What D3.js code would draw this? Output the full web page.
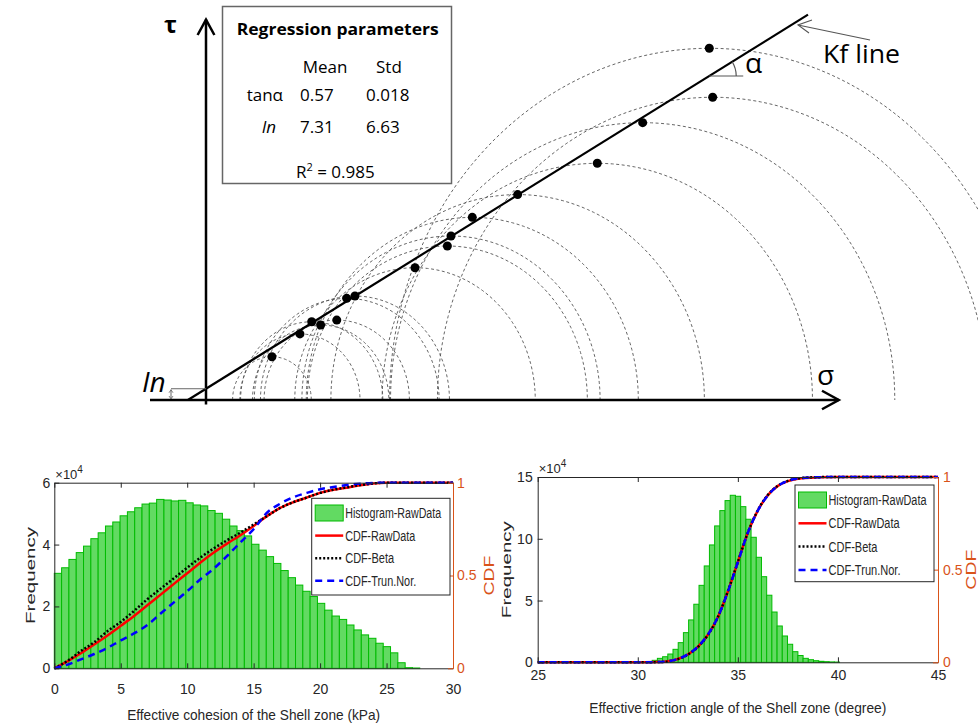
<!DOCTYPE html>
<html>
<head>
<meta charset="utf-8">
<script src="https://cdn.jsdelivr.net/npm/d3@7"></script>
<style>
body { margin: 0; background: #fff; }
svg { display: block; }
</style>
</head>
<body>
<div id="chart"></div>
<script>
// ---- top figure: Mohr circles, tops of circles (p, q) and the Kf line, drawing units
var sigma = [47.1, 67.1, 75.5, 81.9, 93.4, 100.5, 106.4, 149.3, 172.4, 175.0, 190.2, 222.6, 279.5, 311.9, 361.9, 359.5];
var tau = [28.1, 42.9, 50.8, 48.7, 51.9, 66.0, 67.5, 85.9, 100.0, 106.5, 118.6, 133.4, 153.7, 180.1, 196.6, 228.4];
var kfIntercept = 7.31;
var kfSlope = 0.565;
var tableHead = ["Mean", "Std"];
var tableRows = [["tanα", "0.57", "0.018"], ["In", "7.31", "6.63"]];
var rSquared = "0.985";

// ---- bottom left: effective cohesion (kPa), frequency in 1e4
var cohBinStart = 0, cohBinWidth = 0.55;
var cohFreq = [3.07, 3.25, 3.52, 3.74, 3.95, 4.19, 4.38, 4.60, 4.73, 4.93, 5.06, 5.19, 5.31, 5.34, 5.46, 5.44, 5.41,
	5.43, 5.35, 5.28, 5.25, 5.10, 5.01, 4.82, 4.60, 4.45, 4.28, 4.01, 3.82, 3.61, 3.39, 3.16, 2.93, 2.69, 2.49, 2.32,
	2.10, 1.88, 1.69, 1.58, 1.40, 1.24, 1.08, 0.97, 0.81, 0.70, 0.50, 0.18, 0.02, 0.01];
var cohX = [0, 1, 2, 3, 4, 5, 6, 7, 8, 9, 10, 11, 12, 13, 14, 15, 16, 17, 18, 19, 20, 21, 22, 23, 24, 25, 26, 28, 30];
var cohCdfRaw = [0, 0.038, 0.081, 0.128, 0.177, 0.229, 0.282, 0.340, 0.397, 0.455, 0.512, 0.570, 0.624, 0.672, 0.717,
	0.767, 0.820, 0.864, 0.895, 0.920, 0.945, 0.962, 0.973, 0.986, 0.996, 1, 1, 1, 1];
var cohCdfBeta = [0, 0.040, 0.093, 0.140, 0.200, 0.250, 0.309, 0.372, 0.429, 0.485, 0.542, 0.597, 0.646, 0.690, 0.731,
	0.775, 0.820, 0.864, 0.895, 0.920, 0.945, 0.962, 0.975, 0.987, 0.996, 1, 1, 1, 1];
var cohCdfTrun = [0, 0.020, 0.048, 0.077, 0.110, 0.150, 0.188, 0.233, 0.295, 0.355, 0.415, 0.480, 0.537, 0.605, 0.678,
	0.750, 0.838, 0.887, 0.922, 0.945, 0.965, 0.977, 0.987, 0.995, 0.999, 1, 1, 1, 1];

// ---- bottom right: effective friction angle (degree)
var friBinStart = 30.72, friBinWidth = 0.26;
var friFreq = [0.16, 0.32, 0.45, 0.67, 1.05, 1.59, 2.40, 3.43, 4.70, 6.23, 7.80, 9.50, 11.04, 12.28, 13.09, 13.52,
	13.44, 12.60, 11.58, 10.12, 8.50, 6.93, 5.43, 4.07, 2.94, 2.13, 1.46, 0.86, 0.55, 0.32, 0.21, 0.13, 0.08, 0.05,
	0.03, 0.02];
var friX = [25, 30, 31, 31.5, 32, 32.5, 33, 33.5, 34, 34.5, 35, 35.5, 36, 36.5, 37, 37.5, 38, 39, 40, 45];
var friCdfRaw = [0, 0, 0.001, 0.006, 0.018, 0.042, 0.083, 0.148, 0.243, 0.382, 0.541, 0.700, 0.820, 0.902, 0.952,
	0.978, 0.991, 0.998, 1, 1];
var friCdfBeta = [0, 0, 0.001, 0.005, 0.017, 0.041, 0.082, 0.147, 0.244, 0.383, 0.542, 0.700, 0.821, 0.903, 0.953,
	0.979, 0.992, 0.999, 1, 1];
var friCdfTrun = [0, 0, 0.001, 0.005, 0.018, 0.043, 0.084, 0.149, 0.244, 0.381, 0.540, 0.699, 0.819, 0.901, 0.952,
	0.979, 0.992, 0.999, 1, 1];

var legendNames = ["Histogram-RawData", "CDF-RawData", "CDF-Beta", "CDF-Trun.Nor."];

var W = 978, H = 726;
var svg = d3.select("#chart").append("svg")
	.attr("width", W)
	.attr("height", H)
	.style("font-family", "'Liberation Sans', Arial, sans-serif");
svg.append("rect").attr("width", W).attr("height", H).attr("fill", "#fff");

// squeeze a text to a measured width
function fit(sel, w) {
	sel.attr("textLength", w).attr("lengthAdjust", "spacingAndGlyphs");
	return sel;
}

// ================= top figure =================
var xs = d3.scaleLinear().domain([0, 450]).range([206, 836]);  // 1.4 px per unit
var ts = d3.scaleLinear().domain([0, 250]).range([400, 15]);   // 1.54 px per unit

var mohr = svg.append("g").style("font-family", "'Open Sans', 'Noto Sans', sans-serif");

var arc = d3.line().x(function (d) { return xs(d[0]); }).y(function (d) { return ts(d[1]); });
var angles = d3.range(0, 181, 2);

mohr.selectAll(".circ")
	.data(sigma)
	.enter().append("path")
	.attr("class", "circ")
	.attr("d", function (p, i) {
		var q = tau[i];
		return arc(angles.map(function (a) {
			var r = a * Math.PI / 180;
			return [p - q * Math.cos(r), q * Math.sin(r)];
		}));
	})
	.attr("fill", "none")
	.attr("stroke", "#555")
	.attr("stroke-width", 0.9)
	.attr("stroke-dasharray", "3,2.5");

// table box
mohr.append("rect")
	.attr("x", 222.5).attr("y", 6.5).attr("width", 229).attr("height", 177)
	.attr("fill", "#fff").attr("stroke", "#666").attr("stroke-width", 1.5);
fit(mohr.append("text").attr("x", 236.7).attr("y", 34.5).attr("font-size", 16).attr("font-weight", "bold")
	.text("Regression parameters"), 202);
mohr.selectAll(".head").data(tableHead).enter().append("text")
	.attr("x", function (d, i) { return [302.7, 376][i]; })
	.attr("y", 72.7).attr("font-size", 17)
	.text(function (d) { return d; });
tableRows.forEach(function (row, r) {
	var y = [101, 133][r];
	mohr.append("text").attr("x", [246.7, 261.7][r]).attr("y", y).attr("font-size", 17)
		.attr("font-style", r == 1 ? "italic" : null).text(row[0]);
	mohr.append("text").attr("x", 300).attr("y", y).attr("font-size", 17).text(row[1]);
	mohr.append("text").attr("x", 366).attr("y", y).attr("font-size", 17).text(row[2]);
});
var r2 = mohr.append("text").attr("x", 296).attr("y", 178.3).attr("font-size", 17);
r2.append("tspan").text("R");
r2.append("tspan").attr("dy", -7).attr("font-size", 11).text("2");
r2.append("tspan").attr("dy", 7).text(" = " + rSquared);

// axes
var axisStyle = { stroke: "#000", "stroke-width": 2.5, fill: "none" };
function styled(sel, st) { for (var k in st) sel.attr(k, st[k]); return sel; }
styled(mohr.append("line").attr("x1", xs(-40)).attr("x2", xs(452)).attr("y1", ts(0)).attr("y2", ts(0)), axisStyle);
styled(mohr.append("polyline").attr("points", [[xs(440), ts(-6)], [xs(452), ts(0)], [xs(440), ts(6)]].join(" ")), axisStyle);
styled(mohr.append("line").attr("x1", xs(0)).attr("x2", xs(0)).attr("y1", ts(-3)).attr("y2", ts(247)), axisStyle);
styled(mohr.append("polyline").attr("points", [[xs(-6), ts(237)], [xs(0), ts(247)], [xs(6), ts(237)]].join(" ")), axisStyle);

// Kf line
mohr.append("line")
	.attr("x1", xs(-kfIntercept / kfSlope)).attr("y1", ts(0))
	.attr("x2", xs(430)).attr("y2", ts(kfIntercept + kfSlope * 430))
	.attr("stroke", "#000").attr("stroke-width", 2.2);

// points at the tops of the circles
mohr.selectAll(".dot")
	.data(sigma)
	.enter().append("circle")
	.attr("class", "dot")
	.attr("cx", function (d) { return xs(d); })
	.attr("cy", function (d, i) { return ts(tau[i]); })
	.attr("r", 4.5)
	.attr("fill", "#000");

// angle alpha
var aT = 210.4, aS = (aT - kfIntercept) / kfSlope;
var ax0 = xs(aS), ay0 = ts(aT);
mohr.append("line").attr("x1", ax0).attr("x2", ax0 + 34).attr("y1", ay0).attr("y2", ay0)
	.attr("stroke", "#555").attr("stroke-width", 1.2);
var ang = Math.atan(kfSlope * 1.54 / 1.4);
mohr.append("path")
	.attr("d", "M" + (ax0 + 27) + "," + ay0 + " A27,27 0 0 0 " + (ax0 + 27 * Math.cos(ang)) + "," + (ay0 - 27 * Math.sin(ang)))
	.attr("fill", "none").attr("stroke", "#555").attr("stroke-width", 1.2);
mohr.append("text").attr("x", 745).attr("y", 73).attr("font-size", 28).text("α");

// Kf line label and arrow
fit(mohr.append("text").attr("x", 823).attr("y", 63).attr("font-size", 26).text("Kf line"), 77);
mohr.append("line").attr("x1", 870).attr("y1", 40).attr("x2", 798).attr("y2", 25)
	.attr("stroke", "#555").attr("stroke-width", 1.1);
mohr.append("polyline").attr("points", "812,20 798,25 809,33")
	.attr("fill", "none").attr("stroke", "#555").attr("stroke-width", 1.1);

// axis labels
mohr.append("text").attr("x", 164).attr("y", 33).attr("font-size", 24).attr("font-weight", "bold").text("τ");
mohr.append("text").attr("x", 817).attr("y", 385).attr("font-size", 28).text("σ");
mohr.append("text").attr("x", 142).attr("y", 392).attr("font-size", 28).attr("font-style", "italic").text("In");

// intercept marker
var mx = xs(-25), my0 = ts(0), my1 = ts(kfIntercept);
mohr.append("line").attr("x1", mx).attr("x2", xs(0)).attr("y1", my1).attr("y2", my1)
	.attr("stroke", "#666").attr("stroke-width", 1);
mohr.append("line").attr("x1", mx).attr("x2", mx).attr("y1", my1 + 1).attr("y2", my0 - 1)
	.attr("stroke", "#666").attr("stroke-width", 1);
mohr.append("polyline").attr("points", [[mx - 2, my1 + 4], [mx, my1 + 1], [mx + 2, my1 + 4]].join(" "))
	.attr("fill", "none").attr("stroke", "#666").attr("stroke-width", 0.8);
mohr.append("polyline").attr("points", [[mx - 2, my0 - 4], [mx, my0 - 1], [mx + 2, my0 - 4]].join(" "))
	.attr("fill", "none").attr("stroke", "#666").attr("stroke-width", 0.8);

// ================= bottom histograms =================
var ink = "#262626", orange = "#D95319";

function histPanel(p) {
	var g = svg.append("g");
	var x = d3.scaleLinear().domain(p.xDomain).range(p.xRange);
	var y = d3.scaleLinear().domain(p.yDomain).range(p.yRange);
	var yc = d3.scaleLinear().domain([0, 1]).range(p.yRange);

	g.selectAll(".bar")
		.data(p.freq)
		.enter().append("rect")
		.attr("class", "bar")
		.attr("x", function (d, i) { return x(p.binStart + i * p.binWidth); })
		.attr("width", x(p.binStart + p.binWidth) - x(p.binStart))
		.attr("y", function (d) { return y(d); })
		.attr("height", function (d) { return y(0) - y(d); })
		.attr("fill", "#62DA62")
		.attr("stroke", "#00BB00")
		.attr("stroke-width", 1);

	var line = d3.line()
		.x(function (d) { return x(d[0]); })
		.y(function (d) { return yc(d[1]); })
		.curve(d3.curveMonotoneX);
	var curves = [
		{ v: p.cdfRaw, color: "#FF0000", dash: null },
		{ v: p.cdfBeta, color: "#000", dash: "2,2" },
		{ v: p.cdfTrun, color: "#0000FF", dash: "7,5" }
	];
	curves.forEach(function (c) {
		g.append("path")
			.attr("d", line(p.cdfX.map(function (xv, i) { return [xv, c.v[i]]; })))
			.attr("fill", "none")
			.attr("stroke", c.color)
			.attr("stroke-width", 2.5)
			.attr("stroke-dasharray", c.dash);
	});

	// axes (box with inward ticks)
	var bottomAx = g.append("g").attr("transform", "translate(0," + p.yRange[0] + ")")
		.call(d3.axisBottom(x).tickValues(p.xTicks).tickSize(-5).tickSizeOuter(0).tickPadding(p.xPad).tickFormat(d3.format("d")));
	var topAx = g.append("g").attr("transform", "translate(0," + p.yRange[1] + ")")
		.call(d3.axisTop(x).tickValues(p.xTicks).tickSize(-5).tickSizeOuter(0).tickFormat(""));
	var leftAx = g.append("g").attr("transform", "translate(" + p.xRange[0] + ",0)")
		.call(d3.axisLeft(y).tickValues(p.yTicks).tickSize(-5).tickSizeOuter(0).tickPadding(p.yPad).tickFormat(d3.format("d")));
	var rightAx = g.append("g").attr("transform", "translate(" + p.xRange[1] + ",0)")
		.call(d3.axisRight(yc).tickValues([0, 0.5, 1]).tickSize(-5).tickSizeOuter(0).tickPadding(p.cPad).tickFormat(d3.format("")));
	[bottomAx, topAx, leftAx].forEach(function (a) {
		a.selectAll("path, line").attr("stroke", ink);
		a.selectAll("text").attr("fill", ink).attr("font-size", 14).style("font-family", "'Liberation Sans', Arial, sans-serif");
	});
	rightAx.selectAll("path, line").attr("stroke", orange);
	rightAx.selectAll("text").attr("fill", orange).attr("font-size", 14).style("font-family", "'Liberation Sans', Arial, sans-serif");

	// exponent label
	var ex = g.append("text").attr("x", p.xRange[0] + 1).attr("y", p.yRange[1] - 4).attr("font-size", 13).attr("fill", ink);
	ex.append("tspan").text("×10");
	ex.append("tspan").attr("dy", -6).attr("font-size", 10).text("4");

	// titles
	fit(g.append("text").attr("x", (p.xRange[0] + p.xRange[1]) / 2).attr("y", p.xTitleY)
		.attr("text-anchor", "middle").attr("font-size", 15).attr("fill", ink).text(p.xTitle), p.xTitleW);
	fit(g.append("text").attr("transform", "translate(" + p.yTitleX + "," + (p.yRange[0] + p.yRange[1]) / 2 + ") rotate(-90)")
		.attr("text-anchor", "middle").attr("font-size", 13).attr("fill", ink).text("Frequency"), 97);
	fit(g.append("text").attr("transform", "translate(" + p.cTitleX + "," + (p.yRange[0] + p.yRange[1]) / 2 + ") rotate(-90)")
		.attr("text-anchor", "middle").attr("font-size", 15).attr("fill", orange).text("CDF"), 40);

	// legend
	var L = p.legend;
	var lg = g.append("g");
	lg.append("rect").attr("x", L.x).attr("y", L.y).attr("width", L.w).attr("height", L.h)
		.attr("fill", "#fff").attr("stroke", ink).attr("stroke-width", 1);
	legendNames.forEach(function (name, i) {
		var cy = L.row0 + i * L.step;
		if (i == 0) {
			lg.append("rect").attr("x", L.x + 3.5).attr("y", cy - 8).attr("width", 28).attr("height", 16)
				.attr("fill", "#62DA62").attr("stroke", "#00BB00").attr("stroke-width", 1);
		} else {
			var c = curves[i - 1];
			lg.append("line").attr("x1", L.x + 3.5).attr("x2", L.x + 31.5).attr("y1", cy).attr("y2", cy)
				.attr("stroke", c.color).attr("stroke-width", 2.5).attr("stroke-dasharray", c.dash);
		}
		fit(lg.append("text").attr("x", L.x + 33.5).attr("y", cy + 5).attr("font-size", 14).attr("fill", ink).text(name),
			L.widths[i]);
	});
}

histPanel({
	xDomain: [0, 30], xRange: [54.3, 453], yDomain: [0, 6], yRange: [668.3, 482.7],
	xTicks: [0, 5, 10, 15, 20, 25, 30], yTicks: [0, 2, 4, 6], xPad: 16, yPad: 4, cPad: 4,
	binStart: cohBinStart, binWidth: cohBinWidth, freq: cohFreq,
	cdfX: cohX, cdfRaw: cohCdfRaw, cdfBeta: cohCdfBeta, cdfTrun: cohCdfTrun,
	xTitle: "Effective cohesion of the Shell zone (kPa)", xTitleY: 720, xTitleW: 253,
	yTitleX: 35, cTitleX: 494,
	legend: { x: 311.7, y: 498.3, w: 138.3, h: 96.7, row0: 513, step: 22.6, widths: [96, 70, 49, 71] }
});

histPanel({
	xDomain: [25, 45], xRange: [537.7, 938], yDomain: [0, 15], yRange: [662.3, 477],
	xTicks: [25, 30, 35, 40, 45], yTicks: [0, 5, 10, 15], xPad: 8, yPad: 5, cPad: 5,
	binStart: friBinStart, binWidth: friBinWidth, freq: friFreq,
	cdfX: friX, cdfRaw: friCdfRaw, cdfBeta: friCdfBeta, cdfTrun: friCdfTrun,
	xTitle: "Effective friction angle of the Shell zone (degree)", xTitleY: 713, xTitleW: 297,
	yTitleX: 511, cTitleX: 976,
	legend: { x: 795, y: 485, w: 139, h: 96.7, row0: 500, step: 23.3, widths: [98, 71, 49, 72] }
});
</script>
</body>
</html>
